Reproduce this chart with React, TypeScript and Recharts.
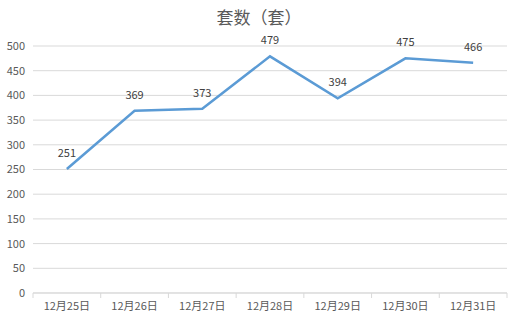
import React from 'react';
import { LineChart, Line, XAxis, YAxis, CartesianGrid, LabelList } from 'recharts';

const categories = ['12月25日', '12月26日', '12月27日', '12月28日', '12月29日', '12月30日', '12月31日'];
const values = [251, 369, 373, 479, 394, 475, 466];
const yTicks = [0, 50, 100, 150, 200, 250, 300, 350, 400, 450, 500];
const title = '套数（套）';

const data = categories.map((c, i) => ({ name: c, value: values[i] }));

const W = 518;
const H = 322;
const margin = { top: 46, right: 11, bottom: 0, left: 0 };
const yAxisWidth = 33;
const xAxisHeight = 29;
const FONT = '"Noto Sans CJK SC", "Noto Sans", sans-serif';
const plotW = W - margin.left - margin.right - yAxisWidth;
const half = plotW / categories.length / 2;

const XTick = (props: any) => {
  const { x, y, payload, index } = props;
  const axisY = y - 8;
  return (
    <g>
      <line x1={x - half} y1={axisY} x2={x - half} y2={axisY + 5} stroke="#D9D9D9" />
      {index === categories.length - 1 && (
        <line x1={x + half} y1={axisY} x2={x + half} y2={axisY + 5} stroke="#D9D9D9" />
      )}
      <text x={x} y={axisY + 17} textAnchor="middle" fill="#595959" fontSize={11} fontFamily={FONT}>
        {payload.value}
      </text>
    </g>
  );
};

export default function App() {
  return (
    <div style={{ position: 'absolute', left: 0, top: 0, width: W, height: H, background: '#fff' }}>
      <div
        style={{
          position: 'absolute',
          left: 0,
          top: 6,
          width: W,
          textAlign: 'center',
          fontSize: 17,
          lineHeight: '22px',
          color: '#595959',
          fontFamily: FONT,
        }}
      >
        {title}
      </div>
      <LineChart width={W} height={H} data={data} margin={margin}>
        <CartesianGrid vertical={false} stroke="#D9D9D9" />
        <XAxis
          dataKey="name"
          stroke="#D9D9D9"
          tickLine={false}
          interval={0}
          height={xAxisHeight}
          padding={{ left: half, right: half }}
          tick={<XTick />}
        />
        <YAxis
          width={yAxisWidth}
          domain={[0, 500]}
          ticks={yTicks}
          axisLine={false}
          tickLine={false}
          tick={{ fill: '#595959', fontSize: 11, fontFamily: FONT }}
        />
        <Line
          type="linear"
          dataKey="value"
          stroke="#5B9BD5"
          strokeWidth={2.5}
          dot={false}
          isAnimationActive={false}
        >
          <LabelList dataKey="value" position="top" offset={12} fill="#404040" fontSize={11} fontFamily={FONT} />
        </Line>
      </LineChart>
    </div>
  );
}
